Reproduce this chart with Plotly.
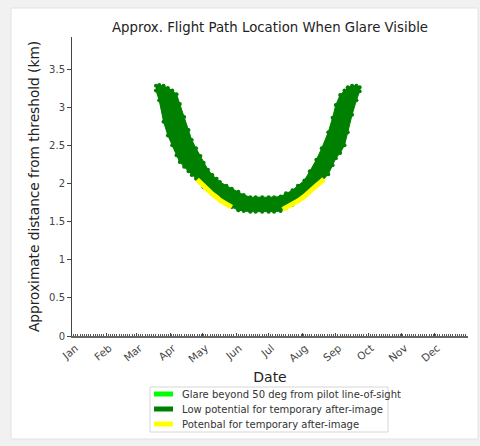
import plotly.graph_objects as go

# Month ticks along the date axis
months = ["Jan", "Feb", "Mar", "Apr", "May", "Jun",
          "Jul", "Aug", "Sep", "Oct", "Nov", "Dec"]
month_starts = ["2023-01-01", "2023-02-01", "2023-03-01", "2023-04-01",
                "2023-05-01", "2023-06-01", "2023-07-01", "2023-08-01",
                "2023-09-01", "2023-10-01", "2023-11-01", "2023-12-01"]
y_ticks = [0, 0.5, 1, 1.5, 2, 2.5, 3, 3.5]
y_tick_text = ["0", "0.5", "1", "1.5", "2", "2.5", "3", "3.5"]

# Glare days: farthest and nearest distance from threshold (km)
glare_dates = ["2023-03-19", "2023-03-22", "2023-03-26", "2023-03-30",
               "2023-04-03", "2023-04-07", "2023-04-10", "2023-04-14",
               "2023-04-18", "2023-04-21", "2023-04-25", "2023-04-29",
               "2023-05-02", "2023-05-06", "2023-05-10", "2023-05-14",
               "2023-05-17", "2023-05-23", "2023-05-28", "2023-06-03",
               "2023-06-08", "2023-06-14", "2023-06-19", "2023-06-25",
               "2023-07-01", "2023-07-06", "2023-07-12", "2023-07-17",
               "2023-07-23", "2023-07-28", "2023-08-03", "2023-08-08",
               "2023-08-14", "2023-08-19", "2023-08-25", "2023-08-29",
               "2023-09-01", "2023-09-05", "2023-09-09", "2023-09-12",
               "2023-09-16", "2023-09-20", "2023-09-23"]
glare_far = [3.28, 3.29, 3.28, 3.25, 3.22, 3.17, 3.04, 2.87,
             2.70, 2.57, 2.46, 2.36, 2.27, 2.18, 2.11, 2.06,
             2.02, 1.97, 1.93, 1.89, 1.85, 1.82, 1.82, 1.82,
             1.82, 1.82, 1.83, 1.87, 1.91, 1.97, 2.04, 2.16,
             2.31, 2.46, 2.67, 2.86, 3.03, 3.16, 3.22, 3.26,
             3.28, 3.28, 3.26]
glare_near = [3.22, 3.09, 2.81, 2.63, 2.50, 2.37, 2.28, 2.22,
              2.16, 2.11, 2.06, 2.01, 1.95, 1.91, 1.86, 1.82,
              1.78, 1.73, 1.69, 1.65, 1.64, 1.63, 1.63, 1.63,
              1.63, 1.63, 1.64, 1.68, 1.72, 1.77, 1.83, 1.90,
              1.97, 2.03, 2.12, 2.24, 2.33, 2.40, 2.50, 2.67,
              2.90, 3.09, 3.21]

# Days with potential for temporary after-image (nearest distance, km)
after_dates_spring = ["2023-04-26", "2023-04-29", "2023-05-02", "2023-05-06",
                      "2023-05-10", "2023-05-14", "2023-05-17", "2023-05-23",
                      "2023-05-28"]
after_km_spring = [2.05, 2.01, 1.95, 1.91, 1.86, 1.82, 1.78, 1.73, 1.69]
after_dates_summer = ["2023-07-14", "2023-07-17", "2023-07-23", "2023-07-28",
                      "2023-08-03", "2023-08-08", "2023-08-14", "2023-08-19",
                      "2023-08-21"]
after_km_summer = [1.66, 1.68, 1.72, 1.77, 1.83, 1.90, 1.97, 2.03, 2.06]

legend_labels = ["Glare beyond 50 deg from pilot line-of-sight",
                 "Low potential for temporary after-image",
                 "Potenbal for temporary after-image"]
legend_colors = ["#00ff00", "#008000", "#ffff00"]

GREEN = "#008000"
YELLOW = "#ffff00"
FONT = "DejaVu Sans"

W, H = 480, 446
L, R, T, B = 72, 12, 37, 110
PW, PH = W - L - R, H - T - B


def px(x):
    """Horizontal pixel -> paper fraction of the plot area."""
    return (x - L) / PW


def py(y):
    """Vertical pixel (from top) -> paper fraction of the plot area."""
    return (H - B - y) / PH


fig = go.Figure()

# Filled band between nearest and farthest glare distances
fig.add_trace(go.Scatter(
    x=glare_dates + glare_dates[::-1],
    y=glare_far + glare_near[::-1],
    fill="toself", fillcolor=GREEN, mode="lines",
    line=dict(color=GREEN, width=1), hoverinfo="skip", showlegend=False))

# Individual glare points on both edges
fig.add_trace(go.Scatter(
    x=glare_dates + glare_dates, y=glare_far + glare_near,
    mode="markers", marker=dict(color=GREEN, size=4, line=dict(width=0)),
    showlegend=False))

# After-image stretches along the near edge
for dts, kms in [(after_dates_spring, after_km_spring),
                 (after_dates_summer, after_km_summer)]:
    fig.add_trace(go.Scatter(
        x=dts, y=kms, mode="lines",
        line=dict(color=YELLOW, width=5), showlegend=False))

shapes = [
    # white card on a light grey page
    dict(type="rect", xref="paper", yref="paper", layer="below",
         x0=px(11), x1=px(478), y0=py(439), y1=py(8),
         fillcolor="white", line=dict(color="#e2e2e2", width=1)),
    # legend frame
    dict(type="rect", xref="paper", yref="paper",
         x0=px(150), x1=px(388), y0=py(432), y1=py(387),
         fillcolor="white", line=dict(color="#d6d6d6", width=1)),
]
annotations = []
for i, (label, color) in enumerate(zip(legend_labels, legend_colors)):
    yc = 394 + 15 * i
    shapes.append(dict(type="rect", xref="paper", yref="paper",
                       x0=px(154), x1=px(173), y0=py(yc + 2.5), y1=py(yc - 2.5),
                       fillcolor=color, line=dict(width=0)))
    annotations.append(dict(text=label, xref="paper", yref="paper",
                            x=px(180), y=py(yc), xanchor="left",
                            yanchor="middle", showarrow=False,
                            font=dict(size=10, color="#333333")))

fig.update_layout(
    width=W, height=H,
    margin=dict(l=L, r=R, t=T, b=B),
    paper_bgcolor="#f1f1f1", plot_bgcolor="white",
    font=dict(family=FONT, color="#222222"),
    title=dict(text="Approx. Flight Path Location When Glare Visible",
               x=0.5, xref="paper", xanchor="center",
               y=1 - 27 / H, yanchor="middle",
               font=dict(size=13.3, color="#222222")),
    showlegend=False,
    shapes=shapes, annotations=annotations,
)

fig.update_xaxes(
    type="date", range=["2022-12-31 12:00", "2024-01-01"],
    tickvals=month_starts, ticktext=months, tickangle=-40,
    tickfont=dict(size=10.5, color="#444444"),
    ticklabelshift=3,
    showgrid=False, zeroline=False, automargin=False,
    showline=True, linecolor="#666666", linewidth=2,
    ticks="inside", ticklen=3, tickcolor="#444444",
    minor=dict(ticks="inside", ticklen=2, tickcolor="#555555",
               dtick=2 * 86400000, showgrid=False),
    title=dict(text="Date", font=dict(size=14, color="#222222"), standoff=8),
)
fig.update_yaxes(
    range=[0, 3.92], tickvals=y_ticks, ticktext=y_tick_text,
    tickfont=dict(size=10, color="#444444"),
    showgrid=False, zeroline=False, automargin=False,
    showline=True, linecolor="#444444", linewidth=1,
    ticks="outside", ticklen=4, tickcolor="#444444",
    title=dict(text="Approximate distance from threshold (km)",
               font=dict(size=13.7, color="#222222"), standoff=6),
)

fig.write_html("out.html")
